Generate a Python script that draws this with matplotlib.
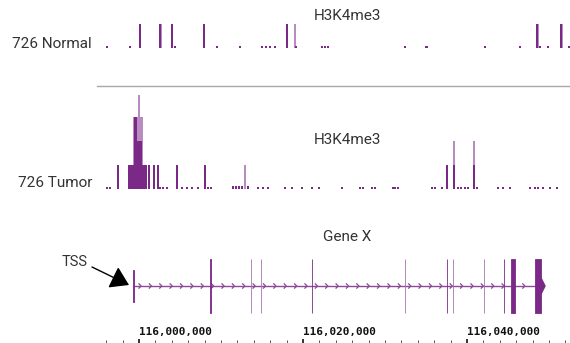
import matplotlib
matplotlib.use("Agg")
import matplotlib.pyplot as plt
import numpy as np
from matplotlib.path import Path
from matplotlib.ticker import MultipleLocator, FixedLocator

# ---- genome browser data (chromosome coordinates) ----
XMIN, XMAX = 115994880, 116052560
RULER_MAJOR = [116000000, 116020000, 116040000]

# 726 Normal, H3K4me3 signal (mean = dark, max = pale)
normal_pos = [115996100, 115998900, 116000120, 116002560, 116004020, 116004390,
              116007930, 116009510, 116012320, 116015000, 116015490, 116015980,
              116016590, 116018050, 116019150, 116022320, 116022680, 116023050,
              116032440, 116035000, 116035120, 116042200, 116046460, 116048540,
              116048900, 116049880, 116051460, 116052440]
normal_val = [0.1, 0.1, 1.0, 1.0, 1.0, 0.1,
              1.0, 0.1, 0.1, 0.1, 0.1, 0.1,
              0.1, 1.0, 0.1, 0.1, 0.1, 0.1,
              0.1, 0.1, 0.1, 0.1, 0.1, 1.0,
              0.1, 0.1, 1.0, 0.1]
normal_max_pos = [116002680, 116019020, 116048660, 116051580]
normal_max_val = [1.0, 1.0, 1.0, 1.0]

# 726 Tumor, H3K4me3 signal
tumor_pos = [115996098, 115996463, 115997439,
             115998780, 115998902, 115999024, 115999146, 115999268, 115999390,
             115999512, 115999634, 115999756, 115999878, 116000000, 116000122,
             116000244, 116000366, 116000488, 116000610, 116000732, 116000854,
             116001220, 116001829, 116002317, 116002561, 116002927, 116003415,
             116004634, 116005244, 116005854, 116006463, 116007195, 116008049,
             116008415, 116008780, 116011463, 116011829, 116012195, 116012561,
             116013293, 116014512, 116015122, 116015732, 116017805, 116018659,
             116019878, 116021097, 116021951, 116024756, 116026951, 116027317,
             116028415, 116028780, 116030975, 116031220, 116031585, 116035732,
             116036098, 116036951, 116037561, 116038415, 116038902, 116039268,
             116039756, 116040122, 116040854, 116041220, 116043780, 116044390,
             116045244, 116047683, 116048293, 116048658, 116049268, 116050122,
             116050976]
tumor_val = [0.1, 0.1, 1.0,
             1.0, 1.0, 1.0, 1.0, 1.0, 1.0,
             3.0, 3.0, 2.0, 2.0, 2.0, 2.0,
             2.0, 1.0, 1.0, 1.0, 1.0, 1.0,
             1.0, 1.0, 1.0, 0.1, 0.1, 0.1,
             1.0, 0.1, 0.1, 0.1, 0.1, 1.0,
             0.1, 0.1, 0.12, 0.12, 0.12, 0.12,
             0.12, 0.1, 0.1, 0.1, 0.1, 0.1,
             0.1, 0.1, 0.1, 0.1, 0.1, 0.1,
             0.1, 0.1, 0.1, 0.1, 0.1, 0.1,
             0.1, 0.1, 1.0, 1.0, 0.1, 0.1,
             0.1, 0.1, 1.0, 0.1, 0.1, 0.1,
             0.1, 0.1, 0.1, 0.1, 0.1, 0.1,
             0.1]
tumor_max_pos = [115999390, 115999512, 115999634, 115999756, 115999878,
                 116000000, 116000122, 116000244, 116000366, 116012927,
                 116038415, 116040854]
tumor_max_val = [3.0, 3.0, 3.0, 3.0, 3.0,
                 3.9, 3.0, 3.0, 3.0, 1.0,
                 2.0, 2.0]

# Gene X exons: start, end, full height (coding) or not, shade
exon_start = [115999330, 116008720, 116013620, 116014840, 116021040, 116032400,
              116037500, 116038250, 116042030, 116044460, 116045420, 116048350]
exon_end = [115999450, 116008840, 116013700, 116014920, 116021150, 116032480,
            116037620, 116038330, 116042110, 116044570, 116045900, 116049020]
exon_coding = [False, True, True, True, True, True,
               True, True, True, True, True, True]
exon_pale = [False, False, True, True, False, True,
             False, True, True, False, False, False]
tx_start, tx_end = 115999360, 116049512

# ---- styling ----
DARK = "#7a2a86"
PALE = "#b88cc0"
EXON_PALE = "#a872b1"
TEXT = "#333333"
W, H = 570, 343

fig = plt.figure(figsize=(W / 100, H / 100), dpi=100)
fig.patch.set_facecolor("white")


def px_axes(x0, y_top, x1, y_bottom):
    return fig.add_axes([x0 / W, 1 - y_bottom / H, (x1 - x0) / W, (y_bottom - y_top) / H])


def ftext(x, y, s, **kw):
    return fig.text(x / W, 1 - y / H, s, **kw)


BIN = 240
LABEL_FONT = dict(family=["Roboto", "DejaVu Sans"], color=TEXT)

# Normal track
ax_n = px_axes(97, 18, 570, 48)
ax_n.bar(normal_max_pos, normal_max_val, width=BIN * 0.8, color=PALE, align="center", linewidth=0)
ax_n.bar(normal_pos, normal_val, width=BIN, color=DARK, align="center", linewidth=0)
ax_n.set_xlim(XMIN, XMAX)
ax_n.set_ylim(0, 1.25)
ax_n.axis("off")

# Tumor track
ax_t = px_axes(97, 189 - 98.4, 570, 189)
ax_t.bar(tumor_max_pos, tumor_max_val, width=BIN * 0.6, color=PALE, align="center", linewidth=0)
ax_t.bar(tumor_pos, tumor_val, width=BIN * 0.75, color=DARK, align="center", linewidth=0)
ax_t.set_xlim(XMIN, XMAX)
ax_t.set_ylim(0, 4.1)
ax_t.axis("off")

# separator between the two signal tracks
fig.add_artist(plt.Line2D([97 / W, 1.0], [1 - 85.5 / H, 1 - 85.5 / H],
                          color="#a8a8a8", linewidth=1.0))

# Gene track
ax_g = px_axes(97, 286 - 32.4, 570, 286 + 32.4)
ax_g.plot([tx_start, exon_end[-1]], [0, 0], color="#8a4a94", linewidth=1.0, zorder=1)
chev = Path([(-1, 1), (0, 0), (-1, -1)], [Path.MOVETO, Path.LINETO, Path.LINETO])
chev_x = np.arange(tx_start + 900, exon_start[-1] - 200, 1265)
ax_g.scatter(chev_x, np.zeros_like(chev_x), marker=chev, s=14, facecolors="none",
             edgecolors="#8a4a94", linewidths=0.9, zorder=2)
for s, e, c, p in zip(exon_start, exon_end, exon_coding, exon_pale):
    h = 1.0 if c else 0.6
    ax_g.fill_between([s, e], -h, h, color=EXON_PALE if p else DARK, linewidth=0.6,
                      edgecolor=EXON_PALE if p else DARK, zorder=3)
# strand arrowhead at the 3' end
ax_g.fill([exon_end[-1], tx_end, exon_end[-1]], [0.3, 0, -0.3], color=DARK, zorder=3)
ax_g.set_xlim(XMIN, XMAX)
ax_g.set_ylim(-1.2, 1.2)
ax_g.axis("off")

# Ruler
ax_r = px_axes(97, 339, 570, 343)
ax_r.set_xlim(XMIN, XMAX)
ax_r.set_ylim(0, 1)
for sp in ax_r.spines.values():
    sp.set_visible(False)
ax_r.set_yticks([])
ax_r.xaxis.set_major_locator(FixedLocator(RULER_MAJOR))
ax_r.xaxis.set_minor_locator(MultipleLocator(2000))
ax_r.set_xticklabels([f"{v:,}" for v in RULER_MAJOR])
ax_r.tick_params(axis="x", which="major", direction="in", length=3, width=1.3,
                 color="#222222", labeltop=True, labelbottom=False, pad=1.5)
ax_r.tick_params(axis="x", which="minor", direction="in", length=2, width=0.7,
                 color="#555555")
for lbl in ax_r.get_xticklabels():
    lbl.set_fontfamily("DejaVu Sans Mono")
    lbl.set_fontweight("bold")
    lbl.set_fontsize(7.9)
    lbl.set_color("#111111")
    lbl.set_horizontalalignment("left")

# Titles and labels
ftext(347, 16, "H3K4me3", ha="center", va="center", fontsize=11, **LABEL_FONT)
ftext(347, 140, "H3K4me3", ha="center", va="center", fontsize=11, **LABEL_FONT)
ftext(347, 237, "Gene X", ha="center", va="center", fontsize=11, **LABEL_FONT)
ftext(92, 44, "726 Normal", ha="right", va="center", fontsize=11, **LABEL_FONT)
ftext(92, 183, "726 Tumor", ha="right", va="center", fontsize=11, **LABEL_FONT)
ftext(75, 262, "TSS", ha="center", va="center", fontsize=10.5, **LABEL_FONT)

fig.add_artist(matplotlib.patches.FancyArrowPatch(
    posA=(92 / W, 1 - 267 / H), posB=(129 / W, 1 - 285 / H),
    transform=fig.transFigure, arrowstyle="-|>,head_length=7,head_width=4.5",
    mutation_scale=1.6, color="black", linewidth=1.0, shrinkA=0, shrinkB=0))

fig.savefig("out.png", dpi=100, facecolor="white")
